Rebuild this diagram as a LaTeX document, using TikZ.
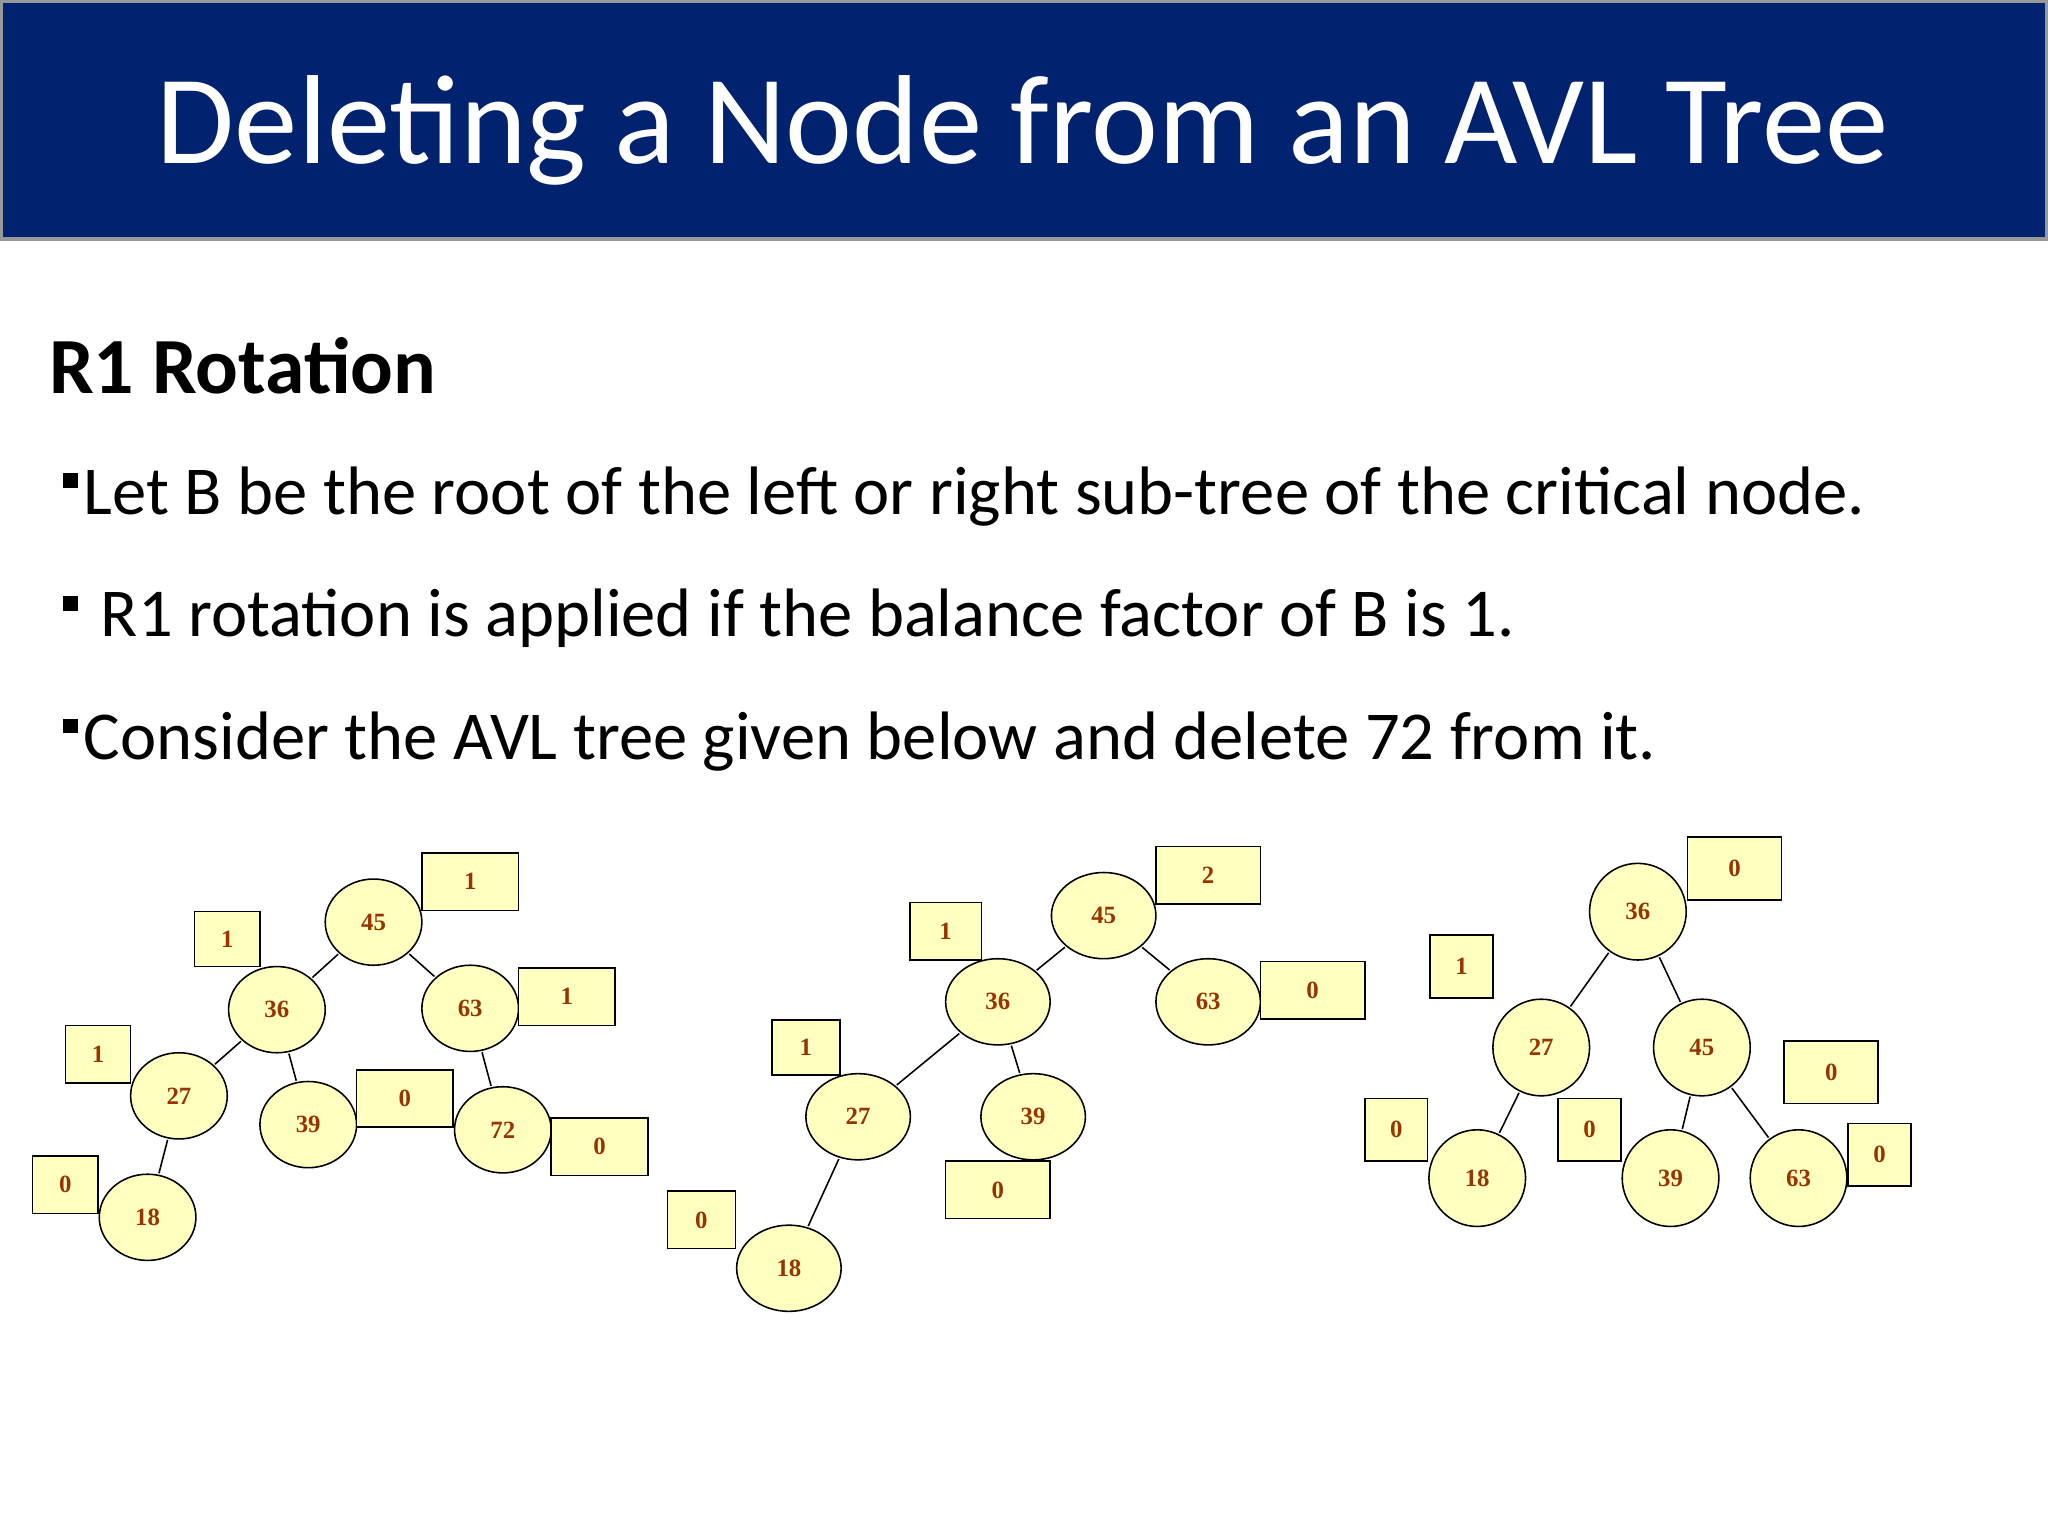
\documentclass[tikz,border=0pt]{standalone}
\usepackage{fontspec}
\setmainfont{Carlito}
\newfontfamily\numfont{Liberation Serif}
\usetikzlibrary{shapes.geometric}
\definecolor{titlebg}{HTML}{00226F}
\definecolor{nodefill}{HTML}{FFFFC0}
\definecolor{numcol}{HTML}{993300}
\tikzset{
 tn/.style={ellipse,draw=black,fill=nodefill,line width=1.2pt,minimum width=74pt,minimum height=66pt,inner sep=0pt,font=\numfont\bfseries\fontsize{19}{19}\selectfont,text=numcol},
 bf/.style={rectangle,draw=black,fill=nodefill,line width=1.2pt,inner sep=0pt,font=\numfont\bfseries\fontsize{19}{19}\selectfont,text=numcol},
 ed/.style={line width=1.2pt,shorten <=1pt,shorten >=1pt},
 bul/.style={fill=black,minimum size=11pt,inner sep=0pt}
}
\begin{document}
\begin{tikzpicture}[x=1pt,y=-1pt]
\useasboundingbox (0,0) rectangle (1568,1176);
\fill[white] (0,0) rectangle (1568,1176);
\draw[fill=titlebg,draw=gray!80,line width=3pt] (1,1) rectangle (1567,183);
\node (title) at (783,100) {\color{white}\fontsize{97}{100}\selectfont Deleting a Node from an AVL Tree};
\node[anchor=west] (sub) at (34,280) {\fontsize{61}{64}\selectfont\bfseries R1 Rotation};
\node[bul] (b1) at (54,368) {};
\node[bul] (b2) at (54,462) {};
\node[bul] (b3) at (54,556) {};
\node[anchor=west,inner sep=0pt] (t1) at (64,380) {\fontsize{52.5}{56}\selectfont Let B be the root of the left or right sub-tree of the critical node.};
\node[anchor=west,inner sep=0pt] (t2) at (77,473) {\fontsize{52.5}{56}\selectfont R1 rotation is applied if the balance factor of B is 1.};
\node[anchor=west,inner sep=0pt] (t3) at (64,568) {\fontsize{52.5}{56}\selectfont Consider the AVL tree given below and delete 72 from it.};

% Tree 1
\node[tn] (a45) at (286,706) {45};
\node[tn] (a36) at (212,773) {36};
\node[tn] (a63) at (360,772) {63};
\node[tn] (a27) at (137,839) {27};
\node[tn] (a39) at (236,861) {39};
\node[tn] (a72) at (385,865) {72};
\node[tn] (a18) at (113,932) {18};
\draw[ed] (a45)--(a36); \draw[ed] (a45)--(a63); \draw[ed] (a36)--(a27);
\draw[ed] (a36)--(a39); \draw[ed] (a27)--(a18); \draw[ed] (a63)--(a72);
\node[bf,minimum width=74pt,minimum height=44pt] (ba45) at (360,675) {1};
\node[bf,minimum width=50pt,minimum height=42pt] (ba36) at (174,719) {1};
\node[bf,minimum width=74pt,minimum height=44pt] (ba63) at (434,763) {1};
\node[bf,minimum width=50pt,minimum height=44pt] (ba27) at (75,807) {1};
\node[bf,minimum width=74pt,minimum height=44pt] (ba39) at (310,841) {0};
\node[bf,minimum width=74pt,minimum height=44pt] (ba72) at (459,878) {0};
\node[bf,minimum width=50pt,minimum height=44pt] (ba18) at (50,907) {0};

% Tree 2
\node[tn,minimum width=80pt] (c45) at (845,701) {45};
\node[tn,minimum width=80pt] (c36) at (764,767) {36};
\node[tn,minimum width=80pt] (c63) at (925,767) {63};
\node[tn,minimum width=80pt] (c27) at (657,855) {27};
\node[tn,minimum width=80pt] (c39) at (791,855) {39};
\node[tn,minimum width=80pt] (c18) at (604,971) {18};
\draw[ed] (c45)--(c36); \draw[ed] (c45)--(c63); \draw[ed] (c36)--(c27);
\draw[ed] (c36)--(c39); \draw[ed] (c27)--(c18);
\node[bf,minimum width=80pt,minimum height=44pt] (bc45) at (925,670) {2};
\node[bf,minimum width=55pt,minimum height=44pt] (bc36) at (724,713) {1};
\node[bf,minimum width=80pt,minimum height=44pt] (bc63) at (1005,758) {0};
\node[bf,minimum width=52pt,minimum height=42pt] (bc27) at (617,802) {1};
\node[bf,minimum width=80pt,minimum height=44pt] (bc39) at (764,911) {0};
\node[bf,minimum width=52pt,minimum height=44pt] (bc18) at (537,934) {0};

% Tree 3
\node[tn,minimum width=74pt,minimum height=74pt] (d36) at (1254,698) {36};
\node[tn,minimum width=74pt,minimum height=74pt] (d27) at (1180,802) {27};
\node[tn,minimum width=74pt,minimum height=74pt] (d45) at (1303,802) {45};
\node[tn,minimum width=74pt,minimum height=74pt] (d18) at (1131,902) {18};
\node[tn,minimum width=74pt,minimum height=74pt] (d39) at (1279,902) {39};
\node[tn,minimum width=74pt,minimum height=74pt] (d63) at (1377,902) {63};
\draw[ed] (d36)--(d27); \draw[ed] (d36)--(d45); \draw[ed] (d27)--(d18);
\draw[ed] (d45)--(d39); \draw[ed] (d45)--(d63);
\node[bf,minimum width=72pt,minimum height=48pt] (bd36) at (1328,665) {0};
\node[bf,minimum width=48pt,minimum height=48pt] (bd27) at (1119,740) {1};
\node[bf,minimum width=72pt,minimum height=48pt] (bd45) at (1402,821) {0};
\node[bf,minimum width=48pt,minimum height=48pt] (bd18) at (1069,865) {0};
\node[bf,minimum width=48pt,minimum height=48pt] (bd39) at (1217,865) {0};
\node[bf,minimum width=48pt,minimum height=48pt] (bd63) at (1439,884) {0};
\end{tikzpicture}
\end{document}
